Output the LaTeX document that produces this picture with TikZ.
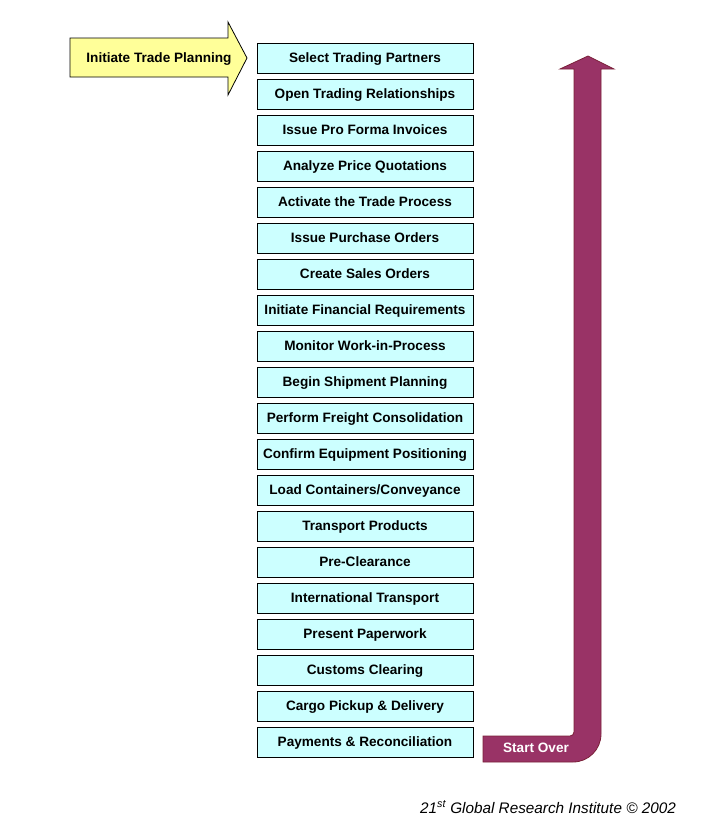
\documentclass[tikz,border=0pt]{standalone}
\usepackage{fontspec}
\setmainfont{Liberation Sans}
\usetikzlibrary{positioning}
\definecolor{boxcyan}{HTML}{CCFFFF}
\definecolor{tipyellow}{HTML}{FFFF99}
\definecolor{loopplum}{HTML}{993366}
\definecolor{loopedge}{HTML}{7A2038}

\begin{document}
\begin{tikzpicture}[x=1pt,y=-1pt,line join=miter,
  boldtext/.style={font=\fontsize{13.6}{15}\selectfont\bfseries,text height=9.8pt,text depth=0pt},
  stepbox/.style={boldtext,draw,line width=0.9pt,fill=boxcyan,minimum width=216pt,minimum height=30pt,
    inner sep=1pt},
  every node/.style={inner sep=1pt}]
  \useasboundingbox (0,0) rectangle (717,831);
  % 起点箭头
  \draw[line width=0.8pt,fill=tipyellow] (70,38) -- (228,38) -- (228,22) -- (247,58) -- (228,95) -- (228,77) -- (70,77) -- cycle;
  \node[boldtext] (start) at (159,58) {Initiate Trade Planning};
  % 步骤方框
  \node[stepbox] (s1) at (365,58) {Select Trading Partners};
  \foreach \txt [count=\i from 2] in {Open Trading Relationships,Issue Pro Forma Invoices,
      Analyze Price Quotations,Activate the Trade Process,Issue Purchase Orders,Create Sales Orders,
      Initiate Financial Requirements,Monitor Work-in-Process,Begin Shipment Planning,
      Perform Freight Consolidation,Confirm Equipment Positioning,Load Containers/Conveyance,
      Transport Products,Pre-Clearance,International Transport,Present Paperwork,
      Customs Clearing,Cargo Pickup \& Delivery,Payments \& Reconciliation}{
    \pgfmathtruncatemacro\prev{\i-1}
    \node[stepbox,below=5.1pt of s\prev] (s\i) {\txt};
  }
  % 回转箭头
  \draw[line width=0.8pt,draw=loopedge,fill=loopplum] (483,736) -- (570,736)
    .. controls (572.2,736) and (574,734.2) .. (574,732) -- (574,69) -- (560,69) -- (588,56)
    -- (614,69) -- (601,69) -- (601,734) .. controls (601,749.5) and (588.5,762) .. (573,762)
    -- (483,762) -- cycle;
  \node[boldtext,text=white] (again) at (536,748) {Start Over};
  % 署名
  \node[font=\fontsize{15.3}{17}\selectfont\itshape] (credit) at (548,807) {21\textsuperscript{st} Global Research Institute \textcopyright{} 2002};
\end{tikzpicture}
\end{document}
